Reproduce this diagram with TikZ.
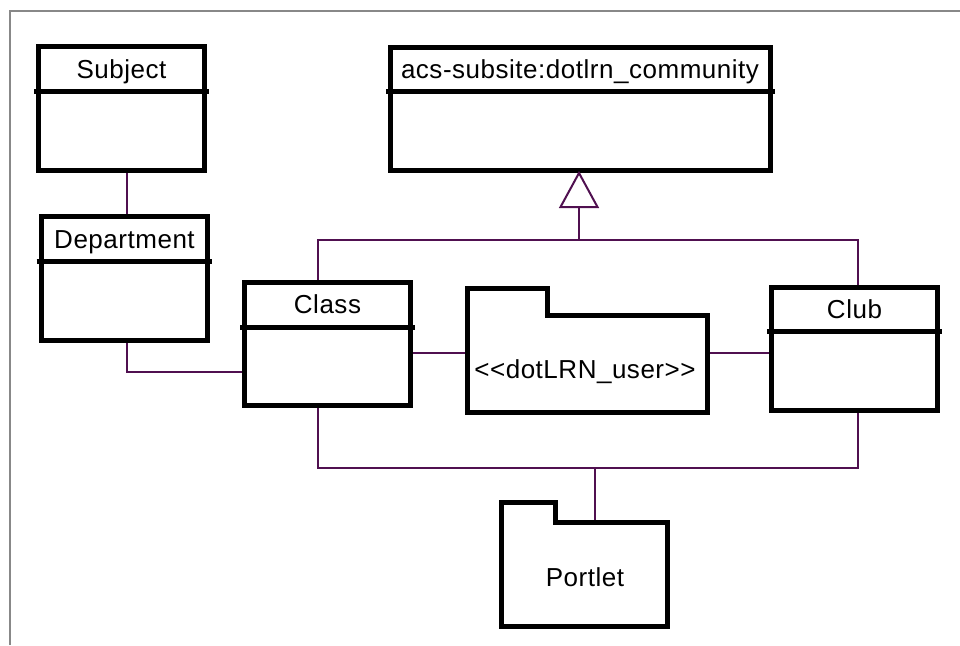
\documentclass[tikz,border=0pt]{standalone}
\usepackage{fontspec}
\setmainfont{Liberation Sans}[LetterSpace=2]
\usetikzlibrary{calc}
\definecolor{conn}{RGB}{80,16,80}
\definecolor{framegray}{RGB}{136,136,136}
\pgfdeclarelayer{bg}
\pgfsetlayers{bg,main}
\begin{document}
\begin{tikzpicture}[x=1pt,y=-1pt,
  umlbox/.style={draw=black, line width=5pt, inner sep=0pt, outer sep=0pt, anchor=north west, rectangle},
  pkgarea/.style={inner sep=0pt, outer sep=0pt, anchor=north west, rectangle},
  divider/.style={line width=5pt},
  conline/.style={draw=conn, line width=2pt},
  title/.style={font=\fontsize{26}{31}\selectfont, anchor=base, inner sep=0pt},
  pkgline/.style={draw=black, line width=5pt, line join=miter},
  framestyle/.style={draw=framegray, line width=2pt}]
\useasboundingbox (0,0) rectangle (960,645);
\draw[framestyle] (10,645) -- (10,11) -- (960,11);

% class boxes
\node[umlbox, minimum width=166pt, minimum height=124pt] (subject) at (38.5,46.5) {};
\draw[divider] (34,91.5) -- (209,91.5);
\node[title] (subjectname) at (121.5,78) {Subject};

\node[umlbox, minimum width=166.5pt, minimum height=124pt] (department) at (41,216.5) {};
\draw[divider] (36.5,261.5) -- (212,261.5);
\node[title] (departmentname) at (124.5,248) {Department};

\node[umlbox, minimum width=380pt, minimum height=123pt] (acs) at (390.5,47.5) {};
\draw[divider] (386,91.5) -- (775,91.5);
\node[title] (acsname) at (580,78) {acs-subsite:dotlrn\_community};

\node[umlbox, minimum width=166pt, minimum height=123pt] (class) at (244.5,282.5) {};
\draw[divider] (240,327.5) -- (415,327.5);
\node[title] (classname) at (327.5,313.5) {Class};

\node[umlbox, minimum width=166pt, minimum height=123pt] (club) at (771.5,287.5) {};
\draw[divider] (767,331.5) -- (942,331.5);
\node[title] (clubname) at (854.5,318) {Club};

% packages
\draw[pkgline] (467.5,288.5) -- (547.5,288.5) -- (547.5,315.5) -- (707.5,315.5) -- (707.5,412.5) -- (467.5,412.5) -- cycle;
\node[pkgarea, minimum width=240pt, minimum height=97pt] (user) at (467.5,315.5) {};
\node[title] (username) at (585,378) {<{}<dotLRN\_user>{}>};

\draw[pkgline] (501.5,502.5) -- (555.5,502.5) -- (555.5,522.5) -- (667.5,522.5) -- (667.5,626.5) -- (501.5,626.5) -- cycle;
\node[pkgarea, minimum width=166pt, minimum height=104pt] (portlet) at (501.5,522.5) {};
\node[title] (portletname) at (585,586.5) {Portlet};

% connectors
\coordinate (inhapex) at ([xshift=-1.5pt,yshift=-2.5pt]acs.south);
\coordinate (inhbase) at ([yshift=-34pt]inhapex);
\coordinate (junction) at (579,240);
\coordinate (midrow) at (0,353);
\coordinate (bus) at (595,468);
\begin{pgfonlayer}{bg}
\fill[white] (0,0) rectangle (960,645);
\draw[conline] ([xshift=5pt]subject.south) -- ([xshift=5pt]subject.south |- department.north);
\draw[conline] ([xshift=2.5pt]department.south) |- ([yshift=-28pt]class.west);
\draw[conline] (inhbase) -- (junction);
\draw[conline] ([xshift=-9.5pt]class.north) |- (junction) -| ([xshift=3.5pt]club.north);
\draw[conline] (class.east |- midrow) -- (user.west |- midrow);
\draw[conline] (user.east |- midrow) -- (club.west |- midrow);
\draw[conline] ([xshift=-9.5pt]class.south) |- (bus) -| ([xshift=3.5pt]club.south);
\draw[conline] (bus) -- (bus |- portlet.north);
\end{pgfonlayer}
\draw[conline, fill=white, line join=miter] (inhapex) -- ++(-18.5,34) -- ++(37,0) -- cycle;
\end{tikzpicture}
\end{document}
